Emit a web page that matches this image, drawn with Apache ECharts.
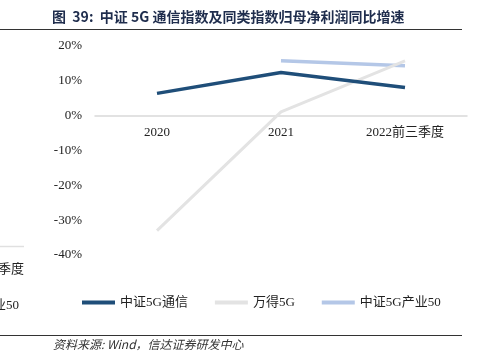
<!DOCTYPE html>
<html><head><meta charset="utf-8">
<script src="https://cdn.jsdelivr.net/npm/echarts@6/dist/echarts.min.js"></script>
<style>html,body{margin:0;padding:0;background:#fff}#c{width:483px;height:355px}</style>
</head><body><div id="c"></div>
<script>
const categories = ['2020', '2021', '2022前三季度'];
const seriesNames = ['中证5G通信', '万得5G', '中证5G产业50'];
const zz5gTongxin = [6.4, 12.4, 8.1];
const wande5g = [-33.0, 1.1, 15.7];
const zz5gChanye50 = [null, 15.8, 14.3];
const yTicks = [-40, -30, -20, -10, 0, 10, 20];

const serif = '"Liberation Serif", "Noto Sans CJK SC", serif';
const gridTop = 46, gridBottom = 100, H = 355;
const yMin = yTicks[0], yMax = yTicks[yTicks.length - 1];
const plotH = H - gridTop - gridBottom;
const zeroOffset = -plotH * (0 - yMin) / (yMax - yMin);

const chart = echarts.init(document.getElementById('c'));
chart.setOption({
  animation: false,
  backgroundColor: '#fff',
  grid: { left: 95, right: 16, top: gridTop, bottom: gridBottom, containLabel: false },
  xAxis: {
    type: 'category', data: categories, boundaryGap: true, offset: zeroOffset,
    axisLine: { show: true, onZero: false, lineStyle: { color: '#d9d9d9', width: 1.5 } },
    axisTick: { show: false },
    axisLabel: { color: '#222', fontFamily: serif, fontSize: 13, margin: 10 }
  },
  yAxis: {
    type: 'value', min: yMin, max: yMax, interval: 10,
    axisLine: { show: false }, axisTick: { show: false },
    splitLine: { show: false },
    axisLabel: { color: '#222', fontFamily: serif, fontSize: 13, margin: 13, formatter: v => v + '%' }
  },
  legend: {
    bottom: 41, left: 77, itemWidth: 33, itemHeight: 4, itemGap: 27, icon: 'rect',
    textStyle: { fontFamily: serif, fontSize: 13, color: '#222' },
    data: seriesNames
  },
  series: [
    { name: seriesNames[0], type: 'line', data: zz5gTongxin, symbol: 'none', z: 3,
      color: '#1f4e79', lineStyle: { width: 3.5, color: '#1f4e79' } },
    { name: seriesNames[1], type: 'line', data: wande5g, symbol: 'none', z: 2,
      color: '#e3e3e3', lineStyle: { width: 3, color: '#e3e3e3' } },
    { name: seriesNames[2], type: 'line', data: zz5gChanye50, symbol: 'none', z: 1,
      color: '#b4c7e7', lineStyle: { width: 3.5, color: '#b4c7e7' } }
  ],
  graphic: [
    { type: 'text', left: 52, top: 10, style: { text: '图  39:  中证 5G 通信指数及同类指数归母净利润同比增速', fill: '#1f2d4d', font: 'bold 14px "Noto Sans CJK SC", "Liberation Sans", sans-serif' } },
    { type: 'line', shape: { x1: 0, y1: 29.5, x2: 462, y2: 29.5 }, style: { stroke: '#333', lineWidth: 1 } },
    { type: 'line', shape: { x1: 0, y1: 335.5, x2: 462, y2: 335.5 }, style: { stroke: '#333', lineWidth: 1 } },
    { type: 'text', left: 53, top: 338, style: { text: '资料来源: Wind，信达证券研发中心', fill: '#333', font: 'italic 12px "Noto Sans CJK SC", "Liberation Sans", sans-serif' } },
    { type: 'line', shape: { x1: 0, y1: 246.5, x2: 24, y2: 246.5 }, style: { stroke: '#e0e0e0', lineWidth: 1.5 } },
    { type: 'text', x: 24, y: 268, style: { text: '前三季度', fill: '#222', align: 'right', verticalAlign: 'middle', font: '13px "Noto Sans CJK SC", serif' } },
    { type: 'text', x: 19, y: 306, style: { text: '产业50', fill: '#222', align: 'right', verticalAlign: 'middle', font: '13px "Liberation Serif", "Noto Sans CJK SC", serif' } }
  ]
});
</script>
</body></html>
